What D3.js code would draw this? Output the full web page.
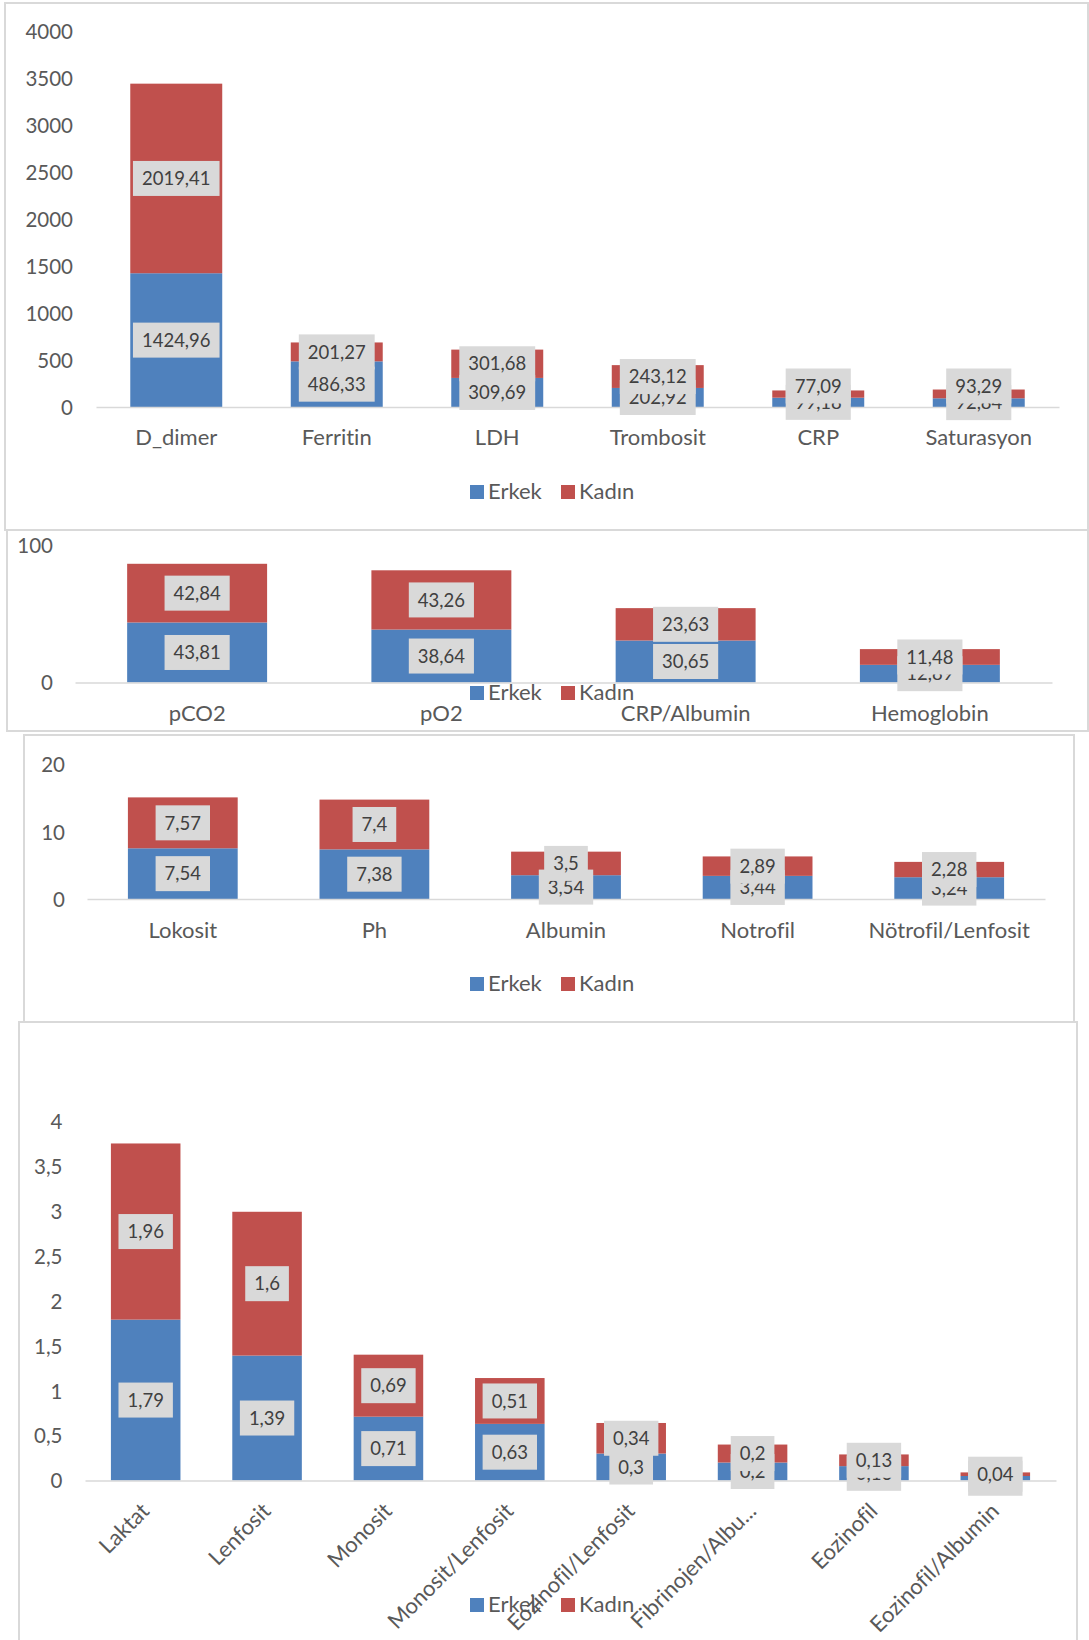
<!DOCTYPE html>
<html>
<head>
<meta charset="utf-8">
<script src="https://d3js.org/d3.v7.min.js"></script>
<style>
  body { margin: 0; background: #fff; }
  svg text { font-family: Lato, "Open Sans", sans-serif; font-variant-ligatures: none; }
</style>
</head>
<body>
<script>
const W = 1089, H = 1640;
const blue = '#4f81bd', red = '#c0504d';
const series = ['Erkek', 'Kadın'];

// panel 1
const cats1 = ['D_dimer', 'Ferritin', 'LDH', 'Trombosit', 'CRP', 'Saturasyon'];
const erkek1 = [1424.96, 486.33, 309.69, 202.92, 99.18, 92.84];
const kadin1 = [2019.41, 201.27, 301.68, 243.12, 77.09, 93.29];
const ticks1 = [0, 500, 1000, 1500, 2000, 2500, 3000, 3500, 4000];

// panel 2
const cats2 = ['pCO2', 'pO2', 'CRP/Albumin', 'Hemoglobin'];
const erkek2 = [43.81, 38.64, 30.65, 12.89];
const kadin2 = [42.84, 43.26, 23.63, 11.48];
const ticks2 = [0, 100];

// panel 3
const cats3 = ['Lokosit', 'Ph', 'Albumin', 'Notrofil', 'Nötrofil/Lenfosit'];
const erkek3 = [7.54, 7.38, 3.54, 3.44, 3.24];
const kadin3 = [7.57, 7.4, 3.5, 2.89, 2.28];
const ticks3 = [0, 10, 20];

// panel 4
const cats4 = ['Laktat', 'Lenfosit', 'Monosit', 'Monosit/Lenfosit', 'Eozinofil/Lenfosit',
               'Fibrinojen/Albumin', 'Eozinofil', 'Eozinofil/Albumin'];
const erkek4 = [1.79, 1.39, 0.71, 0.63, 0.3, 0.2, 0.16, 0.05];
const kadin4 = [1.96, 1.6, 0.69, 0.51, 0.34, 0.2, 0.13, 0.04];
const ticks4 = [0, 0.5, 1, 1.5, 2, 2.5, 3, 3.5, 4];

const fmt = v => String(v).replace('.', ',');

const svg = d3.select('body').append('svg')
    .attr('width', W)
    .attr('height', H);

function panel(p) {
    const g = svg.append('g');

    g.append('rect')
        .attr('x', p.box[0]).attr('y', p.box[1])
        .attr('width', p.box[2]).attr('height', p.box[3])
        .attr('fill', 'none')
        .attr('stroke', '#d9d9d9')
        .attr('stroke-width', 2);

    const rows = p.cats.map((c, i) => ({cat: c, Erkek: p.erkek[i], 'Kadın': p.kadin[i]}));
    const stacked = d3.stack().keys(series)(rows);

    const y = d3.scaleLinear().domain([0, d3.max(p.ticks)]).range([p.y0, p.yTop]);
    const x = d3.scaleBand().domain(p.cats).range([p.xl, p.xr])
        .paddingInner(0.427).paddingOuter(0.2135);

    // y tick labels
    const ya = g.append('g')
        .attr('transform', `translate(${p.tickX},0)`)
        .call(d3.axisLeft(y).tickValues(p.ticks).tickSize(0).tickPadding(0).tickFormat(fmt));
    ya.select('.domain').remove();
    ya.selectAll('text')
        .attr('font-size', 20.5)
        .attr('fill', '#595959')
        .attr('dy', '0.36em');

    // bars
    g.append('g')
        .selectAll('g')
        .data(stacked)
        .join('g')
            .attr('fill', (d, i) => i === 0 ? blue : red)
        .selectAll('rect')
        .data(d => d)
        .join('rect')
            .attr('x', d => x(d.data.cat))
            .attr('width', x.bandwidth())
            .attr('y', d => y(d[1]))
            .attr('height', d => y(d[0]) - y(d[1]));

    // x axis line and category labels
    const xa = g.append('g')
        .attr('transform', `translate(0,${p.y0})`)
        .call(d3.axisBottom(x).tickSize(0).tickSizeOuter(0).tickPadding(0)
            .tickFormat(d => p.short && p.short[d] ? p.short[d] : d));
    xa.select('.domain').attr('stroke', '#d9d9d9').attr('stroke-width', 1.5);
    const xt = xa.selectAll('text')
        .attr('font-size', 22)
        .attr('fill', '#595959')
        .attr('dy', null);
    if (p.rotate) {
        xt.attr('y', 0)
          .attr('text-anchor', 'end')
          .attr('transform', 'translate(5,32) rotate(-45)');
    } else {
        xt.attr('y', p.catBase - p.y0);
    }

    // data labels: Erkek first, Kadın on top
    stacked.forEach((s, si) => {
        const cy = d => {
            const c = y((d[0] + d[1]) / 2);
            return (p.keepAbove && si === 1) ? Math.min(c, p.y0 - 21) : c;
        };
        const lg = g.append('g').selectAll('g')
            .data(s)
            .join('g')
                .attr('transform', d => `translate(${x(d.data.cat) + x.bandwidth() / 2},${cy(d)})`);
        const bg = lg.append('rect').attr('fill', '#d9d9d9');
        lg.append('text')
            .attr('text-anchor', 'middle')
            .attr('dy', '0.36em')
            .attr('font-size', 18.5)
            .attr('fill', '#404040')
            .text(d => fmt(+(d[1] - d[0]).toFixed(2)));
        bg.each(function () {
            const w = d3.select(this.parentNode).select('text').node().getComputedTextLength() + 18;
            d3.select(this)
                .attr('x', -w / 2).attr('width', w)
                .attr('y', -17.5).attr('height', 35);
        });
    });

    // legend
    const leg = g.append('g');
    const items = [{k: 'Erkek', c: blue, x: 470}, {k: 'Kadın', c: red, x: 561}];
    leg.selectAll('rect').data(items).join('rect')
        .attr('x', d => d.x).attr('y', p.legY)
        .attr('width', 14).attr('height', 14)
        .attr('fill', d => d.c);
    leg.selectAll('text').data(items).join('text')
        .attr('x', d => d.x + 18).attr('y', p.legY + 14)
        .attr('font-size', 22)
        .attr('fill', '#595959')
        .text(d => d.k);
}

panel({box: [5, 3, 1083, 527], cats: cats1, erkek: erkek1, kadin: kadin1, ticks: ticks1,
       y0: 407, yTop: 31.5, tickX: 73, xl: 96, xr: 1059, catBase: 444.5, legY: 485,
       keepAbove: true});
panel({box: [7, 530, 1081, 201], cats: cats2, erkek: erkek2, kadin: kadin2, ticks: ticks2,
       y0: 682.5, yTop: 545.5, tickX: 53, xl: 75, xr: 1052, catBase: 721, legY: 686});
panel({box: [24, 735, 1050, 287], cats: cats3, erkek: erkek3, kadin: kadin3, ticks: ticks3,
       y0: 899, yTop: 764.5, tickX: 65, xl: 87, xr: 1045, catBase: 938, legY: 977});
panel({box: [19, 1022, 1058, 630], cats: cats4, erkek: erkek4, kadin: kadin4, ticks: ticks4,
       y0: 1480.5, yTop: 1121, tickX: 62.5, xl: 85, xr: 1056, rotate: true, legY: 1598,
       short: {'Fibrinojen/Albumin': 'Fibrinojen/Albu...'}});
</script>
</body>
</html>
